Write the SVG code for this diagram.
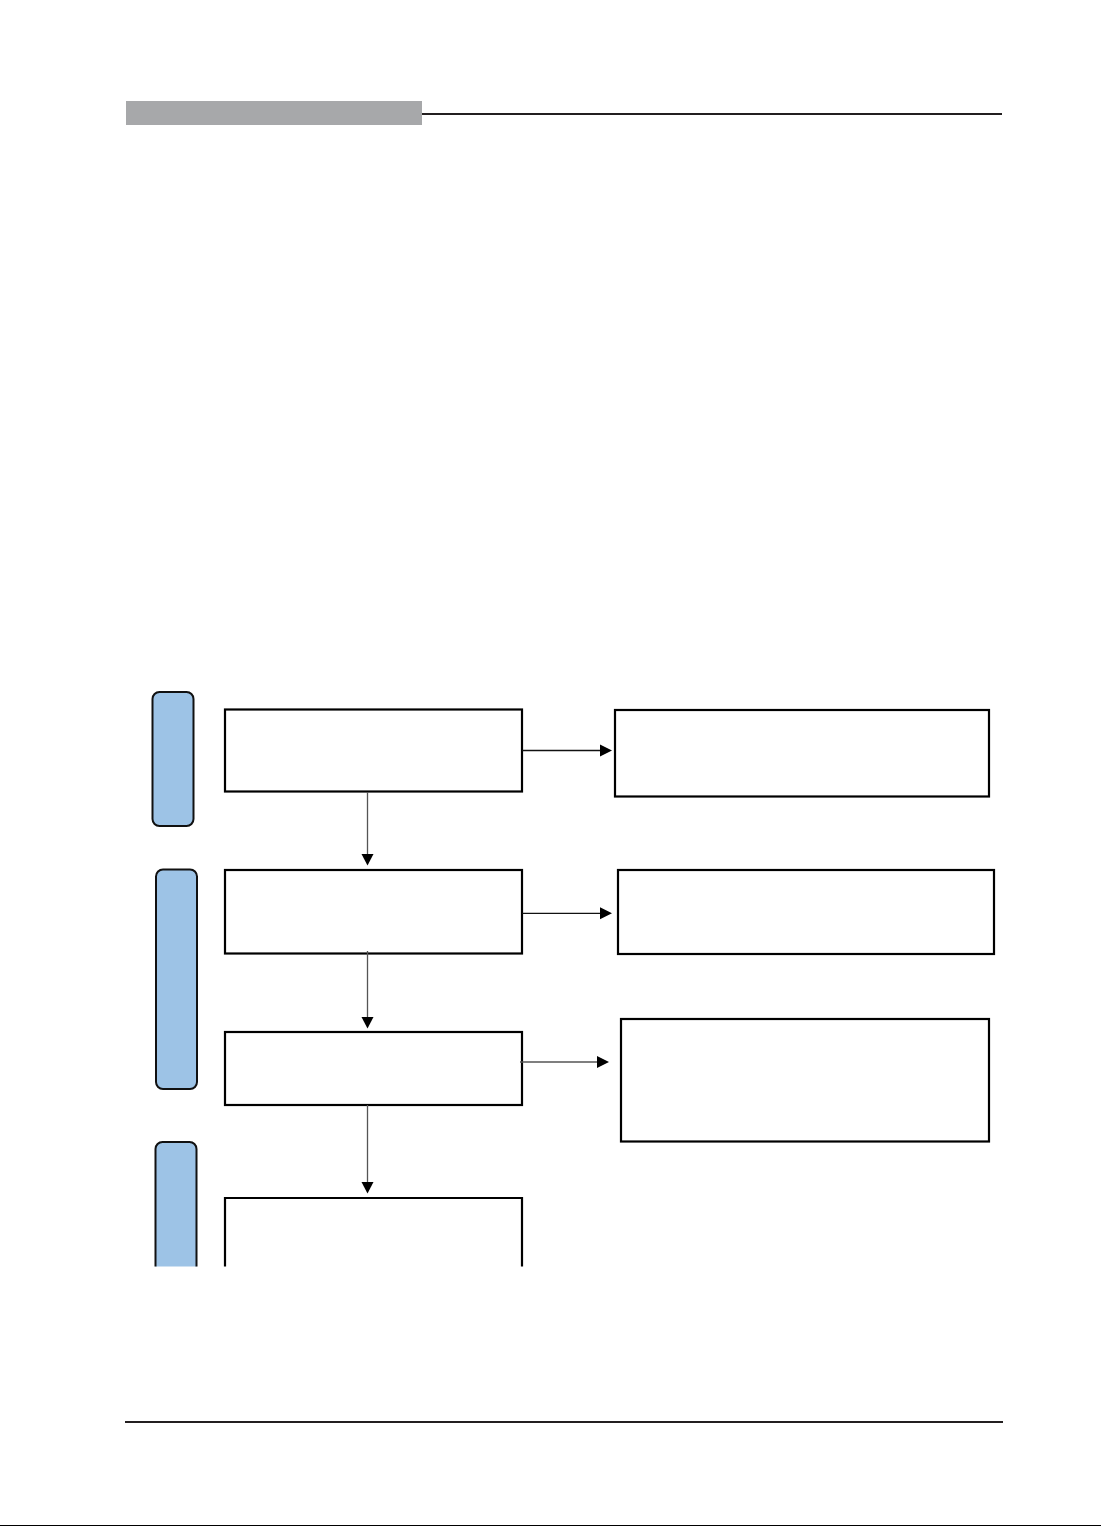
<svg xmlns="http://www.w3.org/2000/svg" width="1101" height="1526" viewBox="0 0 1101 1526">
<style>
.box{fill:#fff;stroke:#000;stroke-width:2.2}
.tab{fill:#9DC3E6;stroke:#111;stroke-width:2}
.con{fill:none;stroke:#555;stroke-width:1.3}
.hcon{fill:none;stroke:#111;stroke-width:1.3}
.head{fill:#000}
.rule{stroke:#231F20;stroke-width:2.2}
</style>
<rect width="1101" height="1526" fill="#fff"/>
<g id="header">
<rect x="126" y="101" width="296" height="24" fill="#A7A8AA"/>
<line class="rule" x1="422" y1="114" x2="1002" y2="114"/>
</g>
<g id="footer">
<line class="rule" x1="125" y1="1422" x2="1003" y2="1422"/>
<line x1="0" y1="1525.5" x2="1101" y2="1525.5" stroke="#000" stroke-width="1.2"/>
</g>
<g id="tab1"><rect class="tab" x="152.5" y="692" width="41" height="134" rx="7"/></g>
<g id="tab2"><rect class="tab" x="156" y="869.5" width="41" height="219.5" rx="7"/></g>
<g id="tab3"><path class="tab" d="M155.5 1266.5 V1149 a7 7 0 0 1 7 -7 H189.5 a7 7 0 0 1 7 7 V1266.5"/></g>
<g id="box1"><rect class="box" x="225" y="709.5" width="297" height="82"/></g>
<g id="box2"><rect class="box" x="225" y="870" width="297" height="83.5"/></g>
<g id="box3"><rect class="box" x="225" y="1032" width="297" height="73"/></g>
<g id="box4"><path class="box" d="M225 1266.5 V1198 H522 V1266.5"/></g>
<g id="rbox1"><rect class="box" x="615" y="710" width="374" height="86.5"/></g>
<g id="rbox2"><rect class="box" x="618" y="870" width="376" height="84"/></g>
<g id="rbox3"><rect class="box" x="621" y="1019" width="368" height="122.5"/></g>
<g id="connectors">
<line class="con" x1="367.5" y1="792" x2="367.5" y2="855"/>
<path class="head" d="M361.5 854 L373.5 854 L367.5 865.5 Z"/>
<line class="con" x1="367.5" y1="951" x2="367.5" y2="1018"/>
<path class="head" d="M361.5 1017 L373.5 1017 L367.5 1028.5 Z"/>
<line class="con" x1="367.5" y1="1105" x2="367.5" y2="1183"/>
<path class="head" d="M361.5 1182 L373.5 1182 L367.5 1193.5 Z"/>
<line class="hcon" x1="522" y1="750.5" x2="602" y2="750.5"/>
<path class="head" d="M600 744.5 L600 756.5 L612 750.5 Z"/>
<line class="hcon" x1="522" y1="913.3" x2="601" y2="913.3"/>
<path class="head" d="M600 907.3 L600 919.3 L612 913.3 Z"/>
<line class="con" x1="520" y1="1062" x2="598" y2="1062"/>
<path class="head" d="M597 1056 L597 1068 L609 1062 Z"/>
</g>
</svg>
